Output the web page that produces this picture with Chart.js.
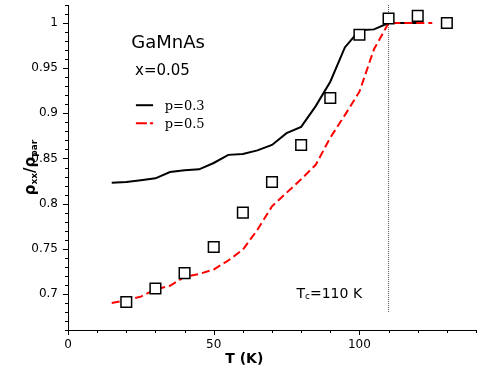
<!DOCTYPE html>
<html>
<head>
<meta charset="utf-8">
<script src="https://cdn.jsdelivr.net/npm/chart.js@4/dist/chart.umd.min.js"></script>
<style>
  html, body { margin: 0; padding: 0; background: #fff; }
  #wrap { width: 480px; height: 373px; }
</style>
</head>
<body>
<div id="wrap"><canvas id="rhoChart" width="480" height="373"></canvas></div>
<script>
"use strict";

// calculated curves, p = 0.3 and p = 0.5
const tempP3 = [15, 20, 25, 30, 35, 40, 45, 50, 55, 60, 65, 70, 75, 80, 85, 90, 95, 100, 105, 110, 115, 120];
const rhoP3 = [0.823, 0.824, 0.826, 0.828, 0.835, 0.837, 0.838, 0.845, 0.854, 0.855, 0.859, 0.865, 0.878, 0.885, 0.908, 0.935, 0.973, 0.992, 0.993, 1.0, 1.0, 1.0];

const tempP5 = [15, 20, 25, 30, 35, 40, 45, 50, 55, 60, 65, 70, 75, 80, 85, 90, 95, 100, 105, 110, 115, 120, 125];
const rhoP5 = [0.690, 0.693, 0.697, 0.705, 0.709, 0.719, 0.722, 0.727, 0.737, 0.749, 0.771, 0.797, 0.812, 0.827, 0.843, 0.873, 0.898, 0.924, 0.971, 1.0, 1.0, 1.0, 1.0];

// measured points
const tempExp = [20, 30, 40, 50, 60, 70, 80, 90, 100, 110, 120, 130];
const rhoExp = [0.691, 0.706, 0.723, 0.752, 0.790, 0.824, 0.865, 0.917, 0.987, 1.005, 1.008, 1.0];

// Curie temperature marker
const tcTemp = [110, 110];
const tcRho = [0.68, 1.02];

const xTickLabels = [0, 50, 100];
const yTickLabels = [0.7, 0.75, 0.8, 0.85, 0.9, 0.95, 1];

const FONT = "'DejaVu Sans', sans-serif";

function toPoints(xs, ys) {
  return xs.map((x, i) => ({ x: x, y: ys[i] }));
}

function isLabelled(list, v) {
  return list.some(t => Math.abs(t - v) < 1e-6);
}

// ticks: long for labelled values, short otherwise
const tickPlugin = {
  id: "axisTicks",
  afterDraw(chart) {
    const ctx = chart.ctx;
    const xs = chart.scales.x;
    const ys = chart.scales.y;
    const area = chart.chartArea;
    ctx.save();
    ctx.strokeStyle = "#000";
    ctx.lineWidth = 1;
    ctx.beginPath();
    xs.ticks.forEach(t => {
      const px = Math.round(xs.getPixelForValue(t.value)) + 0.5;
      const len = isLabelled(xTickLabels, t.value) ? 5 : 3;
      ctx.moveTo(px, area.bottom);
      ctx.lineTo(px, area.bottom + len);
    });
    ys.ticks.forEach(t => {
      const py = Math.round(ys.getPixelForValue(t.value)) + 0.5;
      const len = isLabelled(yTickLabels, t.value) ? 5 : 3;
      ctx.moveTo(area.left, py);
      ctx.lineTo(area.left - len, py);
    });
    ctx.stroke();
    ctx.restore();
  }
};

// text with a subscript part, drawn left to right from (x, y)
function drawSubText(ctx, parts, x, y, size, bold) {
  let cx = x;
  parts.forEach(p => {
    const s = p.sub ? Math.round(size * 0.62) : size;
    ctx.font = (bold ? "bold " : "") + s + "px " + FONT;
    ctx.fillText(p.text, cx, p.sub ? y + size * 0.22 : y);
    cx += ctx.measureText(p.text).width;
  });
  return cx - x;
}

function measureSubText(ctx, parts, size, bold) {
  let w = 0;
  parts.forEach(p => {
    const s = p.sub ? Math.round(size * 0.62) : size;
    ctx.font = (bold ? "bold " : "") + s + "px " + FONT;
    w += ctx.measureText(p.text).width;
  });
  return w;
}

const labelPlugin = {
  id: "labels",
  afterDraw(chart) {
    const ctx = chart.ctx;
    const xs = chart.scales.x;
    const ys = chart.scales.y;
    const area = chart.chartArea;
    ctx.save();
    ctx.fillStyle = "#000";
    ctx.textBaseline = "middle";
    ctx.textAlign = "left";

    ctx.font = "18px " + FONT;
    ctx.fillText("GaMnAs", xs.getPixelForValue(21.7), ys.getPixelForValue(0.977));
    ctx.font = "15px " + FONT;
    ctx.fillText("x=0.05", xs.getPixelForValue(23), ys.getPixelForValue(0.947));

    // legend
    const lx0 = xs.getPixelForValue(23.3);
    const lx1 = xs.getPixelForValue(29.2);
    const ly1 = ys.getPixelForValue(0.909);
    const ly2 = ys.getPixelForValue(0.889);
    ctx.lineWidth = 2;
    ctx.strokeStyle = "#000";
    ctx.beginPath();
    ctx.moveTo(lx0, ly1);
    ctx.lineTo(lx1, ly1);
    ctx.stroke();
    ctx.strokeStyle = "#ff0000";
    ctx.setLineDash([11, 3]);
    ctx.beginPath();
    ctx.moveTo(lx0, ly2);
    ctx.lineTo(lx1, ly2);
    ctx.stroke();
    ctx.setLineDash([]);
    ctx.font = "13px 'DejaVu Serif', serif";
    const tx = xs.getPixelForValue(33.2);
    ctx.fillText("p=0.3", tx, ly1 + 1);
    ctx.fillText("p=0.5", tx, ly2 + 1);

    // Tc label
    drawSubText(ctx, [{ text: "T" }, { text: "c", sub: true }, { text: "=110 K" }],
      xs.getPixelForValue(78.4), ys.getPixelForValue(0.7), 14, false);

    // x axis title
    ctx.textAlign = "center";
    ctx.font = "bold 14px " + FONT;
    ctx.fillText("T (K)", xs.getPixelForValue(60.5), area.bottom + 29);

    // y axis title
    const yParts = [{ text: "\u03c1" }, { text: "xx", sub: true }, { text: "/\u03c1" }, { text: "par", sub: true }];
    ctx.textAlign = "left";
    const w = measureSubText(ctx, yParts, 15, true);
    ctx.translate(31, (area.top + area.bottom) / 2);
    ctx.rotate(-Math.PI / 2);
    drawSubText(ctx, yParts, -w / 2, 0, 15, true);
    ctx.restore();
  }
};

const ctx = document.getElementById("rhoChart").getContext("2d");

const chart = new Chart(ctx, {
  type: "scatter",
  data: {
    datasets: [
      {
        label: "Tc",
        data: toPoints(tcTemp, tcRho),
        showLine: true,
        borderColor: "#555",
        borderWidth: 1,
        borderDash: [1, 1],
        pointRadius: 0,
        order: 4
      },
      {
        label: "p=0.3",
        data: toPoints(tempP3, rhoP3),
        showLine: true,
        borderColor: "#000",
        borderWidth: 2,
        pointRadius: 0,
        order: 3
      },
      {
        label: "p=0.5",
        data: toPoints(tempP5, rhoP5),
        showLine: true,
        borderColor: "#ff0000",
        borderWidth: 2,
        borderDash: [8, 4],
        pointRadius: 0,
        order: 2
      },
      {
        label: "experiment",
        data: toPoints(tempExp, rhoExp),
        showLine: false,
        pointStyle: "rect",
        pointRadius: 7.5,
        pointBackgroundColor: "#fff",
        pointBorderColor: "#000",
        pointBorderWidth: 1.5,
        order: 1
      }
    ]
  },
  options: {
    responsive: false,
    animation: false,
    layout: { autoPadding: false, padding: { top: 5, right: 4, left: 0, bottom: 0 } },
    plugins: {
      legend: { display: false },
      tooltip: { enabled: false }
    },
    scales: {
      x: {
        type: "linear",
        min: 0,
        max: 140,
        afterFit: scale => {
          scale.height = 43;
          scale.paddingLeft = 0;
          scale.paddingRight = 0;
        },
        border: { display: true, color: "#000", width: 1 },
        grid: { display: false, drawTicks: false },
        ticks: {
          stepSize: 10,
          padding: 8,
          autoSkip: false,
          maxRotation: 0,
          color: "#000",
          font: { family: FONT, size: 12 },
          callback: v => isLabelled(xTickLabels, v) ? String(v) : ""
        }
      },
      y: {
        type: "linear",
        min: 0.66,
        max: 1.02,
        afterFit: scale => {
          scale.width = 68;
          scale.paddingTop = 0;
          scale.paddingBottom = 0;
        },
        border: { display: true, color: "#000", width: 1 },
        grid: { display: false, drawTicks: false },
        ticks: {
          stepSize: 0.01,
          padding: 10,
          autoSkip: false,
          color: "#000",
          font: { family: FONT, size: 12 },
          callback: v => isLabelled(yTickLabels, v) ? String(+v.toFixed(2)) : ""
        }
      }
    }
  },
  plugins: [tickPlugin, labelPlugin]
});
</script>
</body>
</html>
